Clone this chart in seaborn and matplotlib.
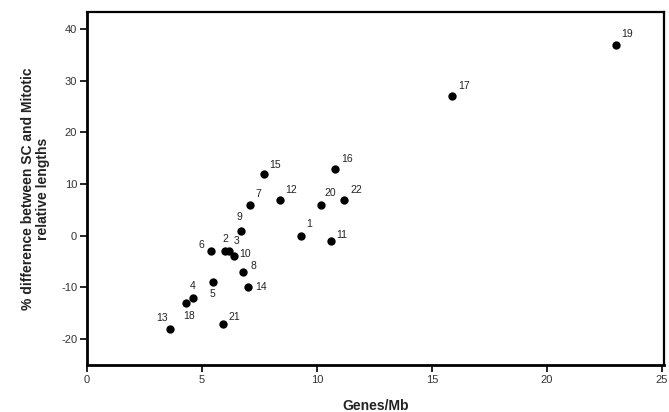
import matplotlib
matplotlib.use("Agg")
import matplotlib.pyplot as plt
import seaborn as sns
import pandas as pd

# Data
chromosomes = ["1", "2", "3", "4", "5", "6", "7", "8", "9", "10", "11",
               "12", "13", "14", "15", "16", "17", "18", "19", "20", "21", "22"]
genes_per_mb = [9.3, 6.0, 6.2, 4.6, 5.5, 5.4, 7.1, 6.8, 6.7, 6.4, 10.6,
                8.4, 3.6, 7.0, 7.7, 10.8, 15.9, 4.3, 23.0, 10.2, 5.9, 11.2]
pct_difference = [0, -3, -3, -12, -9, -3, 6, -7, 1, -4, -1,
                  7, -18, -10, 12, 13, 27, -13, 37, 6, -17, 7]
x_ticks = [0, 5, 10, 15, 20, 25]
y_ticks = [-20, -10, 0, 10, 20, 30, 40]

df = pd.DataFrame({"chrom": chromosomes, "genes": genes_per_mb, "diff": pct_difference})

# label offsets in points (style only)
offsets = {
    "1": (4, 5), "2": (-2, 5), "3": (3, 4), "4": (-2, 5), "5": (-3, -12),
    "6": (-9, 1), "7": (4, 4), "8": (5, 1), "9": (-3, 6), "10": (4, -2),
    "11": (4, 1), "12": (4, 3), "13": (-10, 4), "14": (5, -3), "15": (4, 3),
    "16": (4, 3), "17": (4, 4), "18": (-2, -13), "19": (4, 4), "20": (2, 5),
    "21": (4, 1), "22": (4, 3),
}

sns.set_theme(style="white")
plt.rcParams["font.family"] = ["Liberation Sans", "DejaVu Sans"]

fig = plt.figure(figsize=(6.69, 4.12), dpi=100)
ax = fig.add_axes([0.130, 0.114, 0.8625, 0.857])

sns.scatterplot(data=df, x="genes", y="diff", ax=ax, color="black",
                s=36, edgecolor="black", linewidth=0, legend=False, zorder=3)

for c, x, y in zip(chromosomes, genes_per_mb, pct_difference):
    dx, dy = offsets.get(c, (4, 3))
    ax.annotate(c, (x, y), xytext=(dx, dy), textcoords="offset points",
                fontsize=7.5, color="#222222", ha="left", va="bottom")

ax.set_xlim(0, 25.1)
ax.set_ylim(-25, 43.3)
ax.set_xticks(x_ticks)
ax.set_yticks(y_ticks)
ax.set_xticklabels([str(t) for t in x_ticks], fontsize=8, color="#333333")
ax.set_yticklabels([str(t) for t in y_ticks], fontsize=8, color="#333333")
ax.tick_params(axis="both", direction="out", length=5, width=1.2, color="black",
               bottom=True, left=True, pad=2)

for side in ["left", "bottom"]:
    ax.spines[side].set_linewidth(2.0)
    ax.spines[side].set_color("black")
for side in ["top", "right"]:
    ax.spines[side].set_linewidth(1.6)
    ax.spines[side].set_color("black")

ax.set_xlabel("Genes/Mb", fontsize=10, fontweight="bold", color="#222222", labelpad=10)
ax.set_ylabel("% difference between SC and Mitotic\nrelative lengths", fontsize=10,
              fontweight="bold", color="#222222", labelpad=8, linespacing=1.1)

fig.savefig("out.png", dpi=100)
